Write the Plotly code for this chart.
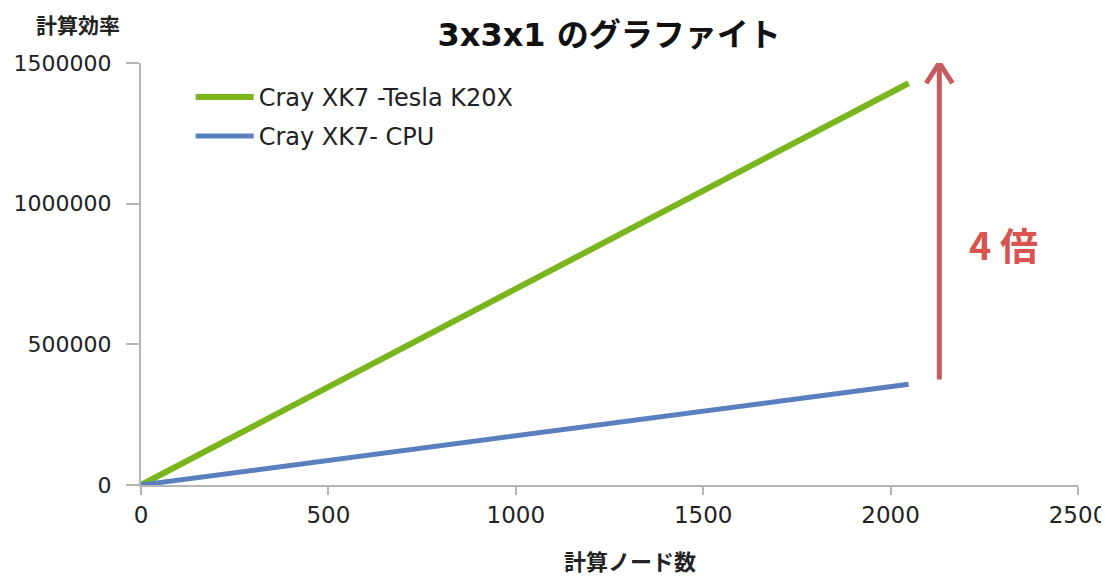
import plotly.graph_objects as go

nodes = [0, 512, 1024, 2048]
gpu_perf = [0, 357000, 714000, 1428000]
cpu_perf = [0, 89500, 179000, 358000]
x_ticks = [0, 500, 1000, 1500, 2000, 2500]
y_ticks = [0, 500000, 1000000, 1500000]

FONT = "Verdana, DejaVu Sans, Noto Sans CJK JP"
JFONT = "Noto Sans CJK JP, DejaVu Sans"
ARROW = "#c65b60"

fig = go.Figure()
fig.add_trace(go.Scatter(x=nodes, y=gpu_perf, mode="lines", name="Cray XK7 -Tesla K20X",
                         legendgroup="g", line=dict(color="#7ab51d", width=6)))
fig.add_trace(go.Scatter(x=nodes, y=cpu_perf, mode="lines", name="Cray XK7- CPU",
                         legendgroup="c", line=dict(color="#5a7fbf", width=5)))

# page body has an 8px margin, so the figure is sized/offset to compensate
fig.update_layout(
    width=1101, height=569,
    margin=dict(l=133, r=31, t=55, b=92, autoexpand=False),
    paper_bgcolor="white", plot_bgcolor="white",
    font=dict(family=FONT, size=24, color="#222222"),
    title=dict(text="<b>3x3x1 のグラファイト</b>", x=0.546, xref="container", xanchor="center",
               y=0.953, yref="container", yanchor="middle",
               font=dict(family=FONT, size=32, color="#111111")),
    showlegend=True,
    legend=dict(x=0.053, y=0.972, xanchor="left", yanchor="top", bgcolor="rgba(0,0,0,0)",
                font=dict(size=24, color="#222222"), itemwidth=58, tracegroupgap=5),
    xaxis=dict(range=[0, 2500], tickvals=x_ticks, showgrid=False, zeroline=False,
               showline=True, linecolor="#b5b5b5", linewidth=2, automargin=False,
               ticks="outside", ticklen=8, tickcolor="#b5b5b5", tickwidth=2,
               tickfont=dict(size=23), fixedrange=True),
    yaxis=dict(range=[0, 1500000], tickvals=y_ticks, showgrid=False, zeroline=False,
               showline=True, linecolor="#b5b5b5", linewidth=2, automargin=False,
               ticks="outside", ticklen=13, tickcolor="#b5b5b5", tickwidth=2,
               ticklabelstandoff=10,
               tickfont=dict(size=22), tickformat="d", fixedrange=True),
)

# arrow shaft
fig.add_annotation(x=2130, y=1497000, ax=2130, ay=370000, xref="x", yref="y", axref="x", ayref="y",
                   showarrow=True, arrowhead=0, arrowwidth=5, arrowcolor=ARROW, text="")
# chevron arrow head
fig.add_shape(type="path", xref="x", yref="y",
              path="M 2095,1428000 L 2130,1500000 L 2165,1428000",
              line=dict(color=ARROW, width=5))
fig.add_annotation(x=2300, y=860000, xref="x", yref="y", text="<b>4 倍</b>", showarrow=False,
                   xanchor="center", yanchor="middle",
                   font=dict(family=JFONT, size=38, color="#d9534f"))
fig.add_annotation(x=-0.067, y=1.092, xref="paper", yref="paper", text="<b>計算効率</b>", showarrow=False,
                   xanchor="center", yanchor="middle",
                   font=dict(family=JFONT, size=21, color="#222222"))
fig.add_annotation(x=0.522, y=-0.177, xref="paper", yref="paper", text="<b>計算ノード数</b>", showarrow=False,
                   xanchor="center", yanchor="middle",
                   font=dict(family=JFONT, size=22, color="#222222"))

fig.write_html("out.html")
